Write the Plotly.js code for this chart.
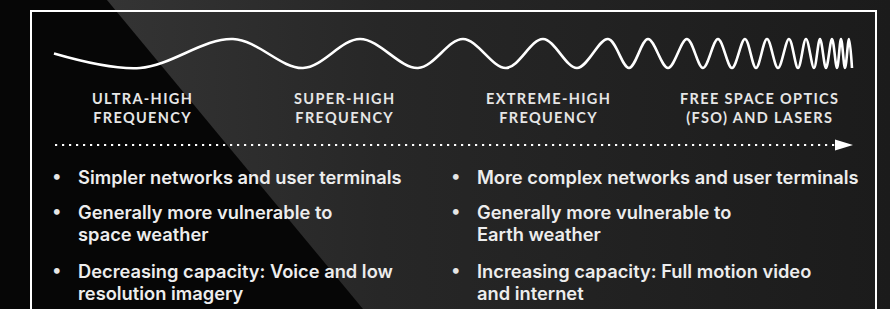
<!DOCTYPE html>
<html>
<head>
<meta charset="utf-8">
<script src="https://cdn.plot.ly/plotly-3.0.1.min.js"></script>
<style>
html,body{margin:0;padding:0;background:#060606;overflow:hidden}
#chart{width:890px;height:309px}
text.annotation-text[style*="Lato, sans-serif"]{letter-spacing:1.35px}
</style>
</head>
<body>
<div id="chart"></div>
<script>
// ---- data ----
const bandLabels = [
  "ULTRA-HIGH<br>FREQUENCY",
  "SUPER-HIGH<br>FREQUENCY",
  "EXTREME-HIGH<br>FREQUENCY",
  "FREE SPACE OPTICS<br>(FSO) AND LASERS"
];
const bandCenters = [142, 344, 548, 759];

const lowerFreqBullets = [
  "Simpler networks and user terminals",
  "Generally more vulnerable to<br>space weather",
  "Decreasing capacity: Voice and low<br>resolution imagery"
];
const higherFreqBullets = [
  "More complex networks and user terminals",
  "Generally more vulnerable to<br>Earth weather",
  "Increasing capacity: Full motion video<br>and internet"
];

// wave extrema along the spectrum (x) and signal level (+1 crest, -1 trough)
const waveX = [54, 140, 233, 303, 360, 418, 463, 506, 543, 577, 608, 629, 648, 668, 687, 703,
               718, 732, 745, 756, 767, 778, 789, 798, 806, 814, 820, 826, 832, 837, 841, 845, 849, 852];
const waveY = [0, -1, 1, -1, 1, -1, 1, -1, 1, -1, 1, -1, 1, -1, 1, -1,
               1, -1, 1, -1, 1, -1, 1, -1, 1, -1, 1, -1, 1, -1, 1, -1, 1, -1];

// ---- layout constants ----
const W = 890, H = 309;
const bulletTops = [163.5, 198.5, 257.5];
const bulletLineGap = 22.5;
const leftDotX = 57, leftTextX = 76;
const rightDotX = 456, rightTextX = 475;

const traces = [
  {
    x: [107, W, W, 363], y: [0, 0, H, H],
    xaxis: 'x', yaxis: 'y',
    type: 'scatter', mode: 'none', fill: 'toself',
    fillgradient: {type: 'horizontal', colorscale: [[0, '#343434'], [0.35, '#272727'], [1, '#1b1b1b']]},
    hoverinfo: 'skip'
  },
  {
    x: waveX, y: waveY,
    xaxis: 'x', yaxis: 'y2',
    type: 'scatter', mode: 'lines',
    line: {color: '#ffffff', width: 2.6, shape: 'spline', smoothing: 1},
    hoverinfo: 'skip'
  }
];

const annotations = [];
bandLabels.forEach((t, i) => {
  annotations.push({
    x: bandCenters[i], y: 88, xref: 'x', yref: 'y',
    xanchor: 'center', yanchor: 'top', align: 'center',
    text: t, showarrow: false,
    font: {family: 'Lato, sans-serif', size: 14.5, weight: 700, color: '#e6e6e6'}
  });
});
function addBullets(list, dotX, textX) {
  list.forEach((t, i) => {
    annotations.push({
      x: dotX, y: bulletTops[i] + 2.5, xref: 'x', yref: 'y',
      xanchor: 'center', yanchor: 'top', text: '•', showarrow: false,
      font: {family: 'Lato', size: 13, weight: 700, color: '#e6e6e6'}
    });
    t.split('<br>').forEach((line, j) => {
      annotations.push({
        x: textX, y: bulletTops[i] + j * bulletLineGap, xref: 'x', yref: 'y',
        xanchor: 'left', yanchor: 'top', align: 'left',
        text: line, showarrow: false,
        font: {family: 'Inter', size: 18.3, weight: 600, color: '#ededed'}
      });
    });
  });
}
addBullets(lowerFreqBullets, leftDotX, leftTextX);
addBullets(higherFreqBullets, rightDotX, rightTextX);

const layout = {
  width: W, height: H,
  margin: {l: 0, r: 0, t: 0, b: 0},
  paper_bgcolor: '#060606', plot_bgcolor: 'rgba(0,0,0,0)',
  showlegend: false,
  xaxis: {range: [0, W], visible: false, fixedrange: true},
  yaxis: {range: [H, 0], visible: false, fixedrange: true},
  yaxis2: {range: [-2, 2], domain: [1 - 82.5 / H, 1 - 24.5 / H], visible: false, fixedrange: true},
  shapes: [
    {type: 'rect', xref: 'x', yref: 'y', x0: 31, x1: 876, y0: 11, y1: H + 20,
     line: {color: '#ffffff', width: 2}, fillcolor: 'rgba(0,0,0,0)'},
    {type: 'line', xref: 'x', yref: 'y', x0: 55, x1: 835, y0: 145, y1: 145,
     line: {color: '#ffffff', width: 2.2, dash: '2.2px,4.8px'}},
    {type: 'path', xref: 'x', yref: 'y', path: 'M835,139.5 L853,145 L835,150.5 Z',
     fillcolor: '#ffffff', line: {width: 0}}
  ],
  annotations: annotations
};

Plotly.newPlot('chart', traces, layout, {displayModeBar: false, staticPlot: true});
</script>
</body>
</html>
